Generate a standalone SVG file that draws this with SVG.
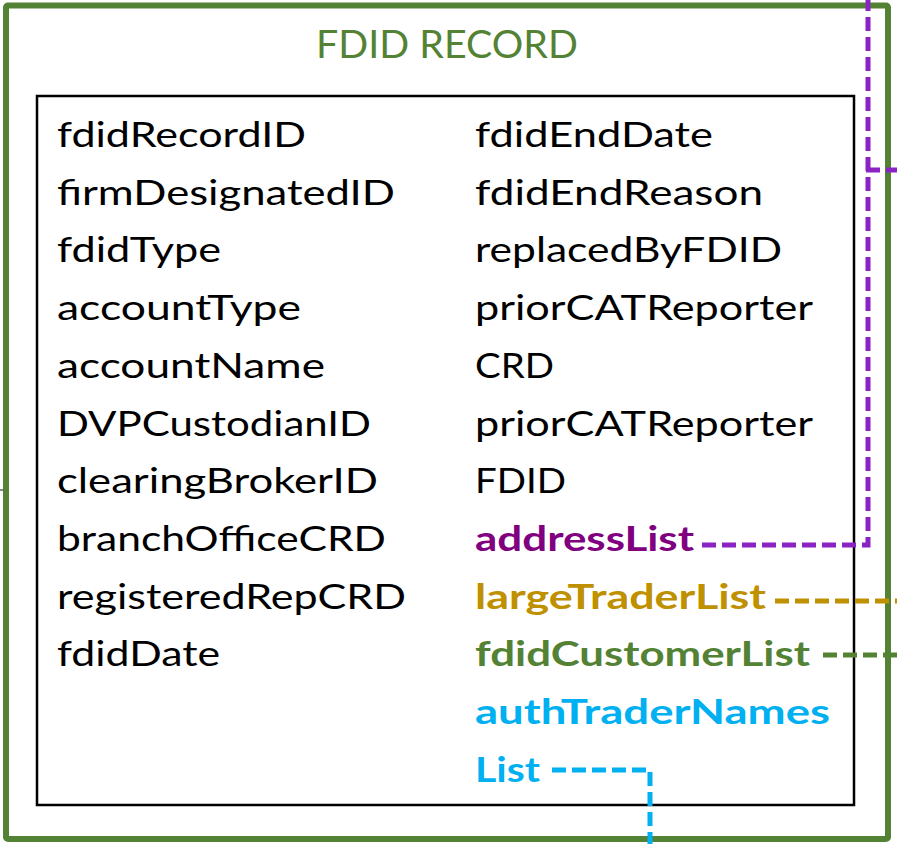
<svg xmlns="http://www.w3.org/2000/svg" width="897" height="844" viewBox="0 0 897 844">
<style>
.t{font-family:Lato,"Liberation Sans",sans-serif;font-size:34px;fill:#000}
.b{font-weight:bold}
.title{font-family:Lato,"Liberation Sans",sans-serif;font-size:38.5px;fill:#548235}
.c{fill:none;stroke-width:5;stroke-dasharray:14 6}
</style>
<rect width="897" height="844" fill="#fff"/>
<g id="record">
<rect x="6" y="5.5" width="882" height="833.5" rx="2" fill="none" stroke="#548235" stroke-width="6"/>
<text class="title" x="316" y="57.7" textLength="262" lengthAdjust="spacingAndGlyphs">FDID RECORD</text>
</g>
<g id="fields">
<rect x="37" y="96" width="817" height="709" fill="none" stroke="#000" stroke-width="2.5"/>
<g class="t">
<text x="57" y="147" textLength="249" lengthAdjust="spacingAndGlyphs">fdidRecordID</text>
<text x="57" y="204.7" textLength="338" lengthAdjust="spacingAndGlyphs">firmDesignatedID</text>
<text x="57" y="262.4" textLength="164" lengthAdjust="spacingAndGlyphs">fdidType</text>
<text x="57" y="320.1" textLength="244" lengthAdjust="spacingAndGlyphs">accountType</text>
<text x="57" y="377.8" textLength="268" lengthAdjust="spacingAndGlyphs">accountName</text>
<text x="57" y="435.5" textLength="314" lengthAdjust="spacingAndGlyphs">DVPCustodianID</text>
<text x="57" y="493.2" textLength="321" lengthAdjust="spacingAndGlyphs">clearingBrokerID</text>
<text x="57" y="550.9" textLength="329" lengthAdjust="spacingAndGlyphs">branchOfficeCRD</text>
<text x="57" y="608.6" textLength="349" lengthAdjust="spacingAndGlyphs">registeredRepCRD</text>
<text x="57" y="666.3" textLength="163" lengthAdjust="spacingAndGlyphs">fdidDate</text>
<text x="475" y="147" textLength="238" lengthAdjust="spacingAndGlyphs">fdidEndDate</text>
<text x="475" y="204.7" textLength="288" lengthAdjust="spacingAndGlyphs">fdidEndReason</text>
<text x="475" y="262.4" textLength="307" lengthAdjust="spacingAndGlyphs">replacedByFDID</text>
<text x="475" y="320.1" textLength="338" lengthAdjust="spacingAndGlyphs">priorCATReporter</text>
<text x="475" y="377.8" textLength="79" lengthAdjust="spacingAndGlyphs">CRD</text>
<text x="475" y="435.5" textLength="338" lengthAdjust="spacingAndGlyphs">priorCATReporter</text>
<text x="475" y="493.2" textLength="91" lengthAdjust="spacingAndGlyphs">FDID</text>
<text class="b" x="475" y="550.9" fill="#7F007F" style="fill:#800080" textLength="219" lengthAdjust="spacingAndGlyphs">addressList</text>
<text class="b" x="475" y="608.6" style="fill:#BF9000" textLength="291" lengthAdjust="spacingAndGlyphs">largeTraderList</text>
<text class="b" x="475" y="666.3" style="fill:#548235" textLength="335" lengthAdjust="spacingAndGlyphs">fdidCustomerList</text>
<text class="b" x="475" y="724" style="fill:#00B0F0" textLength="355" lengthAdjust="spacingAndGlyphs">authTraderNames</text>
<text class="b" x="475" y="781.7" style="fill:#00B0F0" textLength="65" lengthAdjust="spacingAndGlyphs">List</text>
</g>
</g>
<g id="connectors">
<path class="c" d="M702,545 H868 V0" stroke="#8B22C4"/>
<path class="c" d="M866,170 H897" stroke="#8B22C4"/>
<path class="c" d="M775,601 H897" stroke="#BF9000"/>
<path class="c" d="M823,655 H897" stroke="#548235"/>
<path class="c" d="M552,770 H650 V844" stroke="#00B0F0"/>
<path d="M0,490 H4" stroke="#5B6B4B" stroke-width="1.5" fill="none"/>
</g>
</svg>
